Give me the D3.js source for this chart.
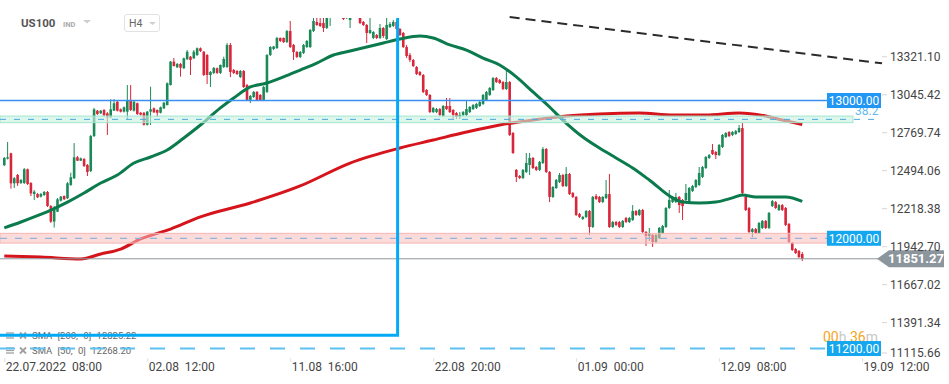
<!DOCTYPE html>
<html><head><meta charset="utf-8">
<script src="https://cdn.jsdelivr.net/npm/d3@7"></script>
<style>
body{margin:0;background:#fff;overflow:hidden}
svg{display:block;font-family:Roboto,"Noto Sans",sans-serif}
</style></head><body>
<svg id="c" width="949" height="384"></svg>
<script>
// ---- data (US100, H4) ----
const opens=[12530,12578,12617,12399,12460,12401,12401,12501,12401,12321,12321,12302,12314,12336,12234,12121,12193,12273,12307,12290,12387,12436,12588,12563,12575,12532,12488,12742,12926,12907,12931,12907,12878,12926,12991,12936,12919,12919,12999,12926,12980,12911,12911,12824,12919,12943,12931,12911,12943,12967,13112,13282,13241,13265,13234,13299,13318,13306,13330,13379,13354,13330,13185,13200,13234,13200,13243,13243,13403,13221,13214,13170,13214,13112,13004,13025,13062,13040,13004,13062,13330,13374,13381,13454,13454,13424,13504,13403,13352,13316,13345,13388,13388,13504,13570,13562,13562,13526,13620,13657,13715,13671,13642,13599,13584,13686,13613,13628,13570,13548,13490,13454,13475,13454,13526,13446,13533,13541,13570,13519,13490,13388,13330,13294,13243,13207,13185,13076,13040,12916,12916,12938,12887,12960,12960,12931,12909,12880,12895,12895,12916,12938,12946,12960,12975,13004,13040,13076,13163,13149,13134,13083,13134,12764,12496,12452,12437,12481,12532,12583,12517,12496,12546,12648,12481,12300,12365,12408,12459,12379,12467,12329,12300,12176,12140,12155,12198,12082,12307,12300,12263,12292,12321,12082,12118,12118,12082,12147,12118,12133,12198,12169,12205,12046,12017,12024,11973,12002,12038,12082,12220,12263,12263,12300,12278,12278,12256,12343,12372,12387,12445,12510,12583,12641,12626,12604,12662,12735,12771,12750,12757,12771,12800,12300,12220,12046,12067,12038,12075,12126,12075,12234,12263,12205,12241,12220,12104,11966,11922,11908,11886];
const highs=[12590,12699,12621,12445,12467,12430,12510,12506,12408,12350,12329,12329,12343,12343,12241,12234,12292,12307,12311,12408,12476,12691,12597,12586,12583,12539,12750,12946,12931,12931,12938,12916,13009,13009,12996,12942,12956,13112,13112,13000,12985,12916,12916,12924,13100,12949,12935,12956,12989,13131,13287,13308,13272,13272,13312,13366,13323,13366,13385,13385,13359,13337,13214,13243,13239,13261,13318,13417,13417,13229,13221,13221,13221,13120,13040,13069,13069,13047,13105,13337,13395,13395,13461,13457,13457,13512,13577,13410,13359,13359,13410,13439,13519,13599,13599,13599,13599,13657,13729,13766,13787,13729,13693,13715,13729,13744,13729,13657,13577,13555,13599,13504,13483,13555,13533,13599,13570,13584,13584,13526,13497,13403,13345,13301,13250,13214,13192,13083,13047,12953,12946,12946,12967,13018,13018,12938,12916,12916,12924,13004,12960,12975,12982,12996,13047,13069,13098,13170,13170,13156,13141,13214,13141,12771,12503,12459,12503,12619,12619,12590,12525,12561,12662,12655,12488,12379,12430,12474,12467,12517,12474,12336,12307,12184,12162,12205,12205,12307,12321,12307,12307,12423,12467,12126,12126,12126,12133,12155,12155,12241,12205,12213,12213,12053,12075,12031,12031,12082,12097,12227,12350,12307,12329,12307,12285,12394,12372,12387,12430,12517,12525,12597,12612,12684,12633,12684,12757,12771,12778,12778,12786,12822,12837,12307,12227,12075,12075,12118,12133,12133,12191,12278,12270,12249,12249,12227,12111,11973,11929,11915,11900];
const lows=[12524,12572,12360,12365,12380,12394,12394,12387,12307,12278,12292,12296,12307,12227,12111,12078,12191,12267,12278,12285,12380,12430,12561,12561,12517,12452,12481,12735,12895,12902,12887,12750,12873,12924,12920,12913,12913,12858,12924,12920,12895,12891,12818,12818,12822,12909,12880,12906,12938,12964,13109,13247,13236,13173,13229,13294,13185,13301,13323,13352,13178,13120,13098,13192,13192,13192,13236,13236,13170,13192,13185,13163,13091,12996,12982,13018,12996,12996,12996,13054,13323,13366,13374,13424,13417,13417,13381,13294,13308,13308,13337,13381,13381,13497,13541,13533,13497,13519,13541,13642,13642,13613,13584,13591,13526,13613,13606,13555,13541,13417,13483,13446,13446,13446,13454,13439,13526,13533,13512,13468,13381,13308,13279,13243,13185,13178,13054,13033,12909,12909,12909,12887,12880,12931,12909,12866,12866,12866,12887,12887,12909,12931,12938,12953,12967,12996,13033,13069,13127,13120,13076,13076,12742,12612,12408,12430,12430,12474,12459,12503,12488,12488,12539,12474,12263,12292,12358,12401,12372,12372,12314,12292,12162,12147,12133,12147,12024,12075,12278,12256,12256,12285,12075,12075,12089,12075,12075,12111,12111,12126,12162,12162,12038,11944,11980,11937,11966,11995,12031,12075,12213,12256,12256,12184,12133,12270,12249,12336,12365,12380,12437,12503,12575,12604,12575,12597,12655,12728,12735,12742,12750,12764,12321,12198,12038,12009,12031,12031,12067,12067,12067,12227,12213,12198,12198,12089,11966,11908,11886,11857,11835];
const closes=[12583,12588,12399,12436,12399,12423,12501,12394,12326,12338,12297,12321,12336,12234,12121,12210,12283,12302,12283,12399,12443,12588,12563,12580,12525,12481,12742,12936,12902,12926,12892,12878,12936,12980,12926,12919,12951,12999,12931,12991,12902,12897,12824,12919,12936,12914,12911,12951,12984,13125,13282,13250,13265,13238,13306,13354,13294,13354,13379,13359,13185,13185,13207,13236,13200,13258,13301,13403,13207,13200,13192,13214,13098,13004,13033,13062,13004,13004,13098,13330,13388,13392,13454,13432,13424,13504,13388,13352,13316,13352,13403,13432,13512,13577,13548,13541,13526,13599,13671,13715,13671,13642,13591,13671,13686,13642,13671,13562,13548,13490,13512,13497,13454,13526,13468,13548,13555,13570,13519,13475,13388,13323,13294,13250,13192,13185,13062,13040,12916,12946,12938,12895,12960,12938,12916,12895,12880,12895,12916,12938,12953,12967,12975,12989,13040,13062,13091,13163,13134,13127,13083,13134,12750,12619,12445,12437,12496,12546,12583,12510,12496,12554,12648,12481,12300,12372,12423,12459,12379,12467,12321,12300,12169,12155,12155,12198,12082,12300,12285,12263,12300,12321,12082,12118,12097,12082,12126,12118,12147,12198,12169,12205,12046,12017,12038,11973,12024,12075,12089,12220,12278,12300,12300,12241,12234,12329,12365,12379,12423,12474,12517,12590,12604,12612,12604,12677,12750,12764,12742,12771,12778,12800,12329,12205,12046,12067,12038,12111,12126,12075,12184,12270,12220,12241,12205,12097,11973,11915,11893,11864,11851.27];

const sma50Idx=[0,5,9,14,19,24,29,34,39,44,49,54,59,65,69,74,79,84,89,94,99,104,109,114,119,125,129,134,139,144,149,154,159,164,168,174,179,184,189,194,201,204,209,214,219,222,226,231,235,240];
const sma50Val=[12075,12118,12155,12205,12263,12329,12401,12459,12546,12590,12641,12728,12822,12946,13018,13098,13127,13171,13221,13272,13330,13359,13388,13417,13446,13468,13454,13403,13366,13308,13258,13171,13062,12953,12858,12735,12655,12583,12510,12423,12293,12263,12256,12263,12293,12314,12300,12300,12300,12268.2];
const sma200Idx=[0,11,23,29,35,41,50,59,74,89,104,119,129,139,149,159,169,179,191,201,211,221,229,234,240];
const sma200Val=[11872,11864,11850,11886,11922,11995,12067,12155,12256,12380,12546,12655,12713,12771,12822,12858,12887,12902,12909,12895,12895,12909,12887,12858,12825.22];

const timeIdx=[0,43,86,129,172,215,258];
const timeLabels=["22.07.2022  08:00","02.08  12:00","11.08  16:00","22.08  20:00","01.09  00:00","12.09  08:00","19.09  12:00"];
const priceTicks=[13321.10,13045.42,12769.74,12494.06,12218.38,11942.70,11667.02,11391.34,11115.66];

const fibBand=[12839,12887], fibLevel=12863, fibText="38.2";
const supportBand=[11965,12036], supportLevel=12000;
const resistLevel=13000, lowLevel=11200, lastPrice=11851.27;
const trend=[{i:152,v:13606},{i:264,v:13270}];
const measure={i:118.3,v:11296};
const legendRows=["SMA [200, 0] 12825.22","SMA [50, 0] 12268.20"];

// ---- drawing ----
const svg=d3.select('#c');
const x=d3.scaleLinear().domain([0,258]).range([4.3,862.1]);
const y=d3.scaleLinear().domain([11102.2,13729.3]).range([362,0]);
const GREEN="#1b8a58", RED="#d9263a";

svg.append('defs').append('clipPath').attr('id','plot')
  .append('rect').attr('x',0).attr('y',18).attr('width',860).attr('height',344);

const g=svg.append('g').attr('clip-path','url(#plot)');
const data=opens.map((o,i)=>({i,o,h:highs[i],l:lows[i],c:closes[i]}));

// candles
const cg=g.append('g');
cg.selectAll('line.w').data(data).join('line').attr('class','w')
  .attr('x1',d=>x(d.i)).attr('x2',d=>x(d.i))
  .attr('y1',d=>y(d.h)).attr('y2',d=>y(d.l))
  .attr('stroke',d=>d.c>=d.o?GREEN:RED).attr('stroke-width',1);
cg.selectAll('rect.b').data(data).join('rect').attr('class','b')
  .attr('x',d=>x(d.i)-1.3).attr('width',2.6)
  .attr('y',d=>y(Math.max(d.o,d.c)))
  .attr('height',d=>Math.max(1,Math.abs(y(d.o)-y(d.c))))
  .attr('fill',d=>d.c>=d.o?GREEN:RED);

// SMAs
const line=d3.line().x(d=>x(d[0])).y(d=>y(d[1])).curve(d3.curveMonotoneX);
g.append('path').attr('d',line(sma200Idx.map((d,k)=>[d,sma200Val[k]])))
  .attr('fill','none').attr('stroke','#d5141c').attr('stroke-width',3);
g.append('path').attr('d',line(sma50Idx.map((d,k)=>[d,sma50Val[k]])))
  .attr('fill','none').attr('stroke','#0b7b4d').attr('stroke-width',3);

// bands
svg.append('rect').attr('x',0).attr('width',853)
  .attr('y',y(fibBand[1])).attr('height',y(fibBand[0])-y(fibBand[1]))
  .attr('fill','rgba(200,242,226,0.62)').attr('stroke','#a3e5cd').attr('stroke-width',1);
svg.append('line').attr('x1',0).attr('x2',876).attr('y1',y(fibLevel)).attr('y2',y(fibLevel))
  .attr('stroke','#4aa8e0').attr('stroke-width',1).attr('stroke-dasharray','6,8');
svg.append('text').attr('x',855).attr('y',y(fibLevel)-4).text(fibText)
  .attr('fill','#64b9ee').attr('font-size',12);

svg.append('rect').attr('x',0).attr('width',827)
  .attr('y',y(supportBand[1])).attr('height',y(supportBand[0])-y(supportBand[1]))
  .attr('fill','rgba(250,190,190,0.55)').attr('stroke','#f5b5b5').attr('stroke-width',1);
svg.append('line').attr('x1',0).attr('x2',827).attr('y1',y(supportLevel)).attr('y2',y(supportLevel))
  .attr('stroke','#93b3df').attr('stroke-width',1.2).attr('stroke-dasharray','7,8');

// resistance line
svg.append('line').attr('x1',0).attr('x2',827).attr('y1',y(resistLevel)).attr('y2',y(resistLevel))
  .attr('stroke','#3b8ff0').attr('stroke-width',1.3);
// last price line
svg.append('line').attr('x1',0).attr('x2',878).attr('y1',y(lastPrice)).attr('y2',y(lastPrice))
  .attr('stroke','#8f969c').attr('stroke-width',1);

// trend (dashed black)
svg.append('line').attr('x1',x(trend[0].i)).attr('y1',y(trend[0].v))
  .attr('x2',x(trend[1].i)).attr('y2',y(trend[1].v))
  .attr('stroke','#2b2b2b').attr('stroke-width',2).attr('stroke-dasharray','10,6');

// legend
const lg=svg.append('g');
legendRows.forEach((t,k)=>{
  const yy=339+k*15;
  const ic=lg.append('g').attr('stroke','#a0a0a0').attr('stroke-width',1.3);
  [0,2.5,5].forEach(o=>ic.append('line').attr('x1',6).attr('x2',14).attr('y1',yy-6+o).attr('y2',yy-6+o));
  ic.append('line').attr('x1',20).attr('x2',26).attr('y1',yy-6.5).attr('y2',yy-0.5).attr('stroke-width',1.8);
  ic.append('line').attr('x1',26).attr('x2',20).attr('y1',yy-6.5).attr('y2',yy-0.5).attr('stroke-width',1.8);
  lg.append('text').attr('x',32).attr('y',yy).text(t).attr('fill','#666').attr('font-size',9.5)
    .style('word-spacing','3px');
});

// 11200 dashed
svg.append('line').attr('x1',0).attr('x2',827).attr('y1',y(lowLevel)).attr('y2',y(lowLevel))
  .attr('stroke','#5cc2f2').attr('stroke-width',2).attr('stroke-dasharray','15,15');

// measure lines (blue)
svg.append('path')
  .attr('d',`M${x(measure.i)},18 L${x(measure.i)},${y(measure.v)} L0,${y(measure.v)}`)
  .attr('fill','none').attr('stroke','#03a9f4').attr('stroke-width',3);

// countdown
const cd=svg.append('text').attr('x',823).attr('y',342).attr('font-size',14);
cd.append('tspan').text('00').attr('fill','#f5a524');
cd.append('tspan').text('h ').attr('fill','#c8c8c8');
cd.append('tspan').text('36').attr('fill','#f5a524');
cd.append('tspan').text('m').attr('fill','#c8c8c8');

// price boxes
function box(v,fill){
  const yy=y(v);
  svg.append('rect').attr('x',827).attr('y',yy-7.5).attr('width',54).attr('height',15).attr('fill',fill);
  svg.append('text').attr('x',854).attr('y',yy+4.3).attr('text-anchor','middle')
    .attr('fill','#fff').attr('font-size',12).text(d3.format('.2f')(v));
}
box(resistLevel,'#2196f3');
box(supportLevel,'#14a7ef');
box(lowLevel,'#14a7ef');
{
  const yy=y(lastPrice);
  svg.append('path').attr('d',`M877,${yy} L889,${yy-8.5} L944,${yy-8.5} L944,${yy+8.5} L889,${yy+8.5} Z`).attr('fill','#8c959c');
  svg.append('text').attr('x',916).attr('y',yy+4.5).attr('text-anchor','middle').attr('fill','#fff')
    .attr('font-size',13).attr('font-weight','bold').text(d3.format('.2f')(lastPrice));
}

// right axis
const ya=svg.append('g').attr('transform','translate(882,0)')
  .call(d3.axisRight(y).tickValues(priceTicks).tickSize(5).tickPadding(3).tickFormat(d3.format('.2f')));
ya.select('.domain').remove();
ya.selectAll('.tick line').attr('stroke','#d5d5d5');
ya.selectAll('.tick text').attr('fill','#444').attr('font-size',12).attr('font-family','Roboto');
ya.selectAll('.tick').filter(d=>y(d)>356).attr('transform','translate(0,353)');

// time axis
const xa=svg.append('g').attr('transform','translate(0,358)')
  .call(d3.axisBottom(x).tickValues(timeIdx).tickSize(4).tickFormat((d,k)=>timeLabels[k]));
xa.select('.domain').remove();
xa.selectAll('.tick line').attr('stroke','#e0e0e0');
xa.selectAll('.tick text').attr('fill','#444').attr('font-size',12).attr('font-family','Roboto')
  .attr('text-anchor','start').attr('dx',1).attr('y',12.5).attr('dy',0).style('white-space','pre');

// header
svg.append('text').attr('x',21).attr('y',27).text('US100').attr('fill','#555').attr('font-size',11.5).attr('font-weight','bold');
svg.append('text').attr('x',63).attr('y',27).text('IND').attr('fill','#aaa').attr('font-size',7.5).attr('font-weight','bold');
svg.append('path').attr('d','M83,20 L91,20 L87,23.5 Z').attr('fill','#cfcfcf');
svg.append('rect').attr('x',124.5).attr('y',14.5).attr('width',35).attr('height',17).attr('rx',2.5)
  .attr('fill','#fff').attr('stroke','#e2e2e2');
svg.append('text').attr('x',129).attr('y',27).text('H4').attr('fill','#666').attr('font-size',10.5);
svg.append('path').attr('d','M149,22 L156,22 L152.5,25 Z').attr('fill','#cfcfcf');
</script></body></html>
